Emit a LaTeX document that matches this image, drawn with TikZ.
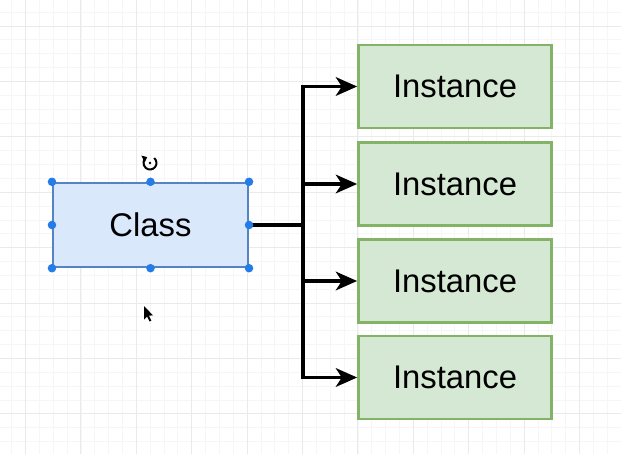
\documentclass[tikz,border=0pt]{standalone}
\usepackage{fontspec}
\setmainfont{Liberation Sans}
\usetikzlibrary{arrows.meta}

\definecolor{classfill}{RGB}{218,232,252}
\definecolor{classline}{RGB}{84,132,196}
\definecolor{handle}{RGB}{36,124,232}
\definecolor{instfill}{RGB}{213,232,212}
\definecolor{instline}{RGB}{130,179,102}
\definecolor{gridminor}{RGB}{246,246,246}
\definecolor{gridmajor}{RGB}{234,234,234}

\tikzset{
  classbox/.style={draw=classline, fill=classfill, line width=1.8pt,
    minimum width=146pt, minimum height=63pt, inner sep=0pt,
    font=\fontsize{24.6}{29}\selectfont},
  instbox/.style={draw=instline, fill=instfill, line width=1.8pt,
    minimum width=145pt, minimum height=62pt, inner sep=0pt,
    font=\fontsize{24.6}{29}\selectfont},
  trunk/.style={line width=2.3pt},
  link/.style={line width=2.3pt, -{Stealth[length=16pt,width=14pt,inset=4.5pt]}},
  handledot/.style={fill=handle},
}

\begin{document}
\begin{tikzpicture}[x=0.75pt,y=0.75pt,yscale=-1,xscale=1]
\useasboundingbox (0,0) rectangle (621,454);

%Grid
\foreach \i in {0,...,45} {\draw[gridminor,line width=0.6pt] ({-2.2+13.85*\i},0) -- ({-2.2+13.85*\i},454);}
\foreach \i in {0,...,34} {\draw[gridminor,line width=0.6pt] (0,{-1.7+13.85*\i}) -- (621,{-1.7+13.85*\i});}
\foreach \i in {0,...,11} {\draw[gridmajor,line width=0.75pt] ({25.5+55.4*\i},0) -- ({25.5+55.4*\i},454);}
\foreach \i in {0,...,8} {\draw[gridmajor,line width=0.75pt] (0,{26+55.4*\i}) -- (621,{26+55.4*\i});}

% Class
\node[classbox] (class) at (150.5,225) {Class};

% Instances
\node[instbox] (inst1) at (455,86.5) {Instance};
\node[instbox] (inst2) at (455,184) {Instance};
\node[instbox] (inst3) at (455,281) {Instance};
\node[instbox] (inst4) at (455,377.5) {Instance};

%Connectors
\coordinate (fork) at (303,225);
\draw[trunk] (class.east) -- (fork);
\draw[link] (fork) |- (inst1.west);
\draw[link] (fork) |- (inst4.west);
\draw[link] (fork |- inst2.west) -- (inst2.west);
\draw[link] (fork |- inst3.west) -- (inst3.west);

%Selection handles
\foreach \a in {north west,north,north east,west,east,south west,south,south east}
  {\fill[handledot] (class.\a) circle (3.2pt);}

%Rotate icon
\coordinate (rot) at (150,163);
\draw[line width=1.5pt, -{Triangle[length=3.5pt,width=5.5pt]}] ([shift={(-50:6.5)}]rot) arc[start angle=-50, end angle=245, radius=6.5];
\fill (rot) circle (1pt);

%Cursor
\fill[black] (144,306) -- (144,319.5) -- (147,316.5) -- (149.6,321.5) -- (151.4,320.6) -- (148.8,315.6) -- (153,315.4) -- cycle;

\end{tikzpicture}
\end{document}
